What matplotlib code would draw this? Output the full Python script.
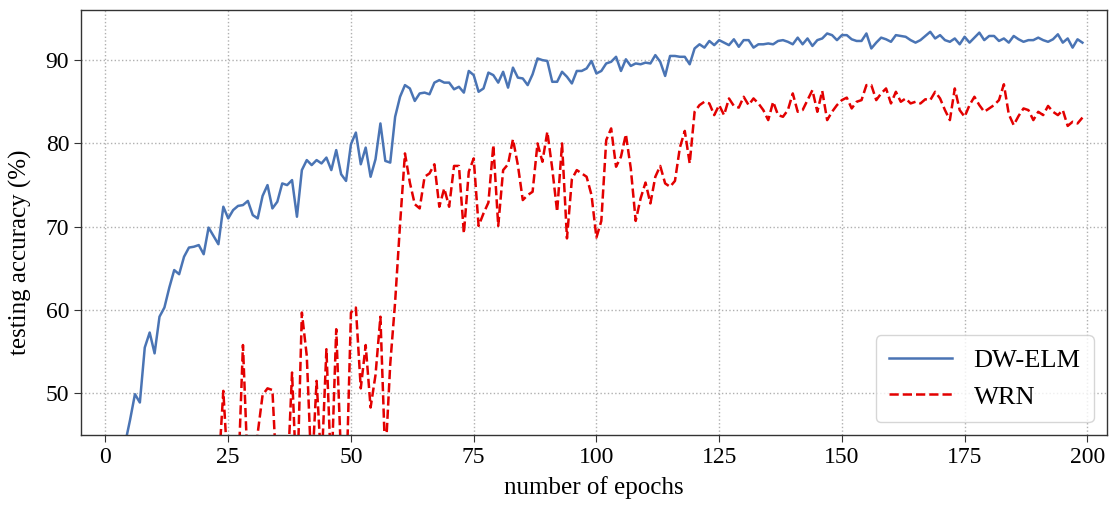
import matplotlib
matplotlib.use("Agg")
import matplotlib.pyplot as plt

plt.rcParams['font.family'] = ['Liberation Serif', 'DejaVu Serif']
plt.rcParams['mathtext.fontset'] = 'stix'

# testing accuracy per epoch (%)
dw_elm = [
    28.0, 33.0, 37.0, 41.0, 44.0, 46.8, 49.9, 48.9, 55.5, 57.3,
    54.8, 59.2, 60.3, 62.7, 64.8, 64.3, 66.4, 67.5, 67.6, 67.8,
    66.7, 69.9, 68.9, 67.9, 72.4, 71.0, 72.0, 72.5, 72.6, 73.1,
    71.4, 71.0, 73.7, 75.0, 72.2, 73.0, 75.2, 75.0, 75.6, 71.2,
    76.8, 78.0, 77.4, 78.0, 77.6, 78.3, 76.8, 79.2, 76.3, 75.5,
    79.9, 81.3, 77.5, 79.5, 76.0, 78.1, 82.4, 77.9, 77.7, 83.2,
    85.6, 87.0, 86.6, 85.1, 86.0, 86.1, 85.9, 87.3, 87.6, 87.3,
    87.3, 86.5, 86.8, 86.1, 88.7, 88.2, 86.2, 86.6, 88.5, 88.2,
    87.3, 88.6, 86.7, 89.1, 87.9, 87.8, 87.0, 88.3, 90.2, 90.0,
    89.9, 87.4, 87.4, 88.6, 88.0, 87.2, 88.7, 88.7, 89.0, 89.9,
    88.4, 88.7, 89.6, 89.8, 90.4, 88.7, 90.1, 89.3, 89.6, 89.5,
    89.7, 89.6, 90.6, 89.8, 88.1, 90.5, 90.5, 90.4, 90.4, 89.5,
    91.4, 91.9, 91.5, 92.3, 91.8, 92.4, 92.1, 91.8, 92.5, 91.6,
    92.4, 92.4, 91.5, 91.9, 91.9, 92.0, 91.9, 92.3, 92.4, 92.2,
    91.9, 92.7, 91.9, 92.6, 91.7, 92.4, 92.6, 93.2, 93.0, 92.4,
    93.0, 93.0, 92.5, 92.3, 92.3, 93.2, 91.4, 92.1, 92.7, 92.5,
    92.2, 93.0, 92.9, 92.8, 92.4, 92.1, 92.4, 92.9, 93.4, 92.6,
    93.0, 92.4, 92.2, 92.6, 91.9, 92.8, 92.1, 92.7, 93.3, 92.4,
    92.9, 92.9, 92.3, 92.6, 92.1, 92.9, 92.5, 92.2, 92.4, 92.4,
    92.7, 92.4, 92.2, 92.5, 93.1, 92.1, 92.6, 91.5, 92.5, 92.1,
]

wrn = [
    18.0, 22.5, 25.1, 28.4, 27.0, 31.2, 30.5, 33.8, 32.1, 35.6,
    34.0, 36.9, 35.2, 38.1, 36.4, 39.0, 37.5, 40.2, 38.3, 41.0,
    39.1, 41.8, 40.0, 40.5, 50.3, 40.0, 42.0, 39.5, 55.8, 40.5,
    39.0, 45.2, 49.8, 50.6, 50.4, 38.5, 41.0, 39.0, 52.5, 38.0,
    59.7, 54.5, 40.0, 51.5, 41.0, 55.3, 40.0, 57.7, 42.0, 38.0,
    59.7, 60.3, 50.6, 55.8, 48.3, 52.2, 59.2, 42.0, 53.5, 61.0,
    70.3, 78.8, 75.3, 72.7, 72.2, 76.0, 76.4, 77.5, 72.4, 74.6,
    72.4, 77.3, 77.3, 69.2, 76.6, 78.2, 70.1, 71.6, 72.9, 79.8,
    70.1, 76.8, 77.5, 80.5, 77.4, 73.2, 73.8, 74.2, 80.0, 77.8,
    81.4, 77.0, 71.8, 80.0, 68.6, 75.7, 76.8, 76.4, 76.0, 73.8,
    68.7, 70.7, 80.4, 81.8, 77.2, 78.4, 81.1, 77.0, 70.7, 73.4,
    75.3, 72.8, 76.0, 77.3, 75.2, 74.8, 75.5, 79.5, 81.5, 77.6,
    83.8, 84.6, 85.0, 84.8, 83.4, 84.6, 83.4, 85.4, 84.5, 84.3,
    85.6, 84.6, 85.4, 84.8, 84.0, 82.8, 85.0, 83.4, 83.2, 84.0,
    86.0, 83.8, 84.0, 85.2, 86.4, 83.8, 86.3, 82.8, 83.8, 84.6,
    85.2, 85.5, 84.2, 85.0, 85.2, 87.0, 87.0, 85.2, 86.0, 86.6,
    84.8, 86.2, 85.0, 85.4, 84.8, 85.0, 84.8, 85.3, 85.2, 86.2,
    85.4, 84.0, 82.8, 86.6, 84.0, 83.2, 84.6, 85.6, 84.6, 83.8,
    84.2, 84.6, 85.2, 87.1, 83.5, 82.2, 83.3, 84.2, 84.0, 82.8,
    83.8, 83.4, 84.5, 83.8, 83.4, 84.0, 82.1, 82.6, 82.4, 83.1,
]

epochs = list(range(len(dw_elm)))
x_ticks = [0, 25, 50, 75, 100, 125, 150, 175, 200]
y_ticks = [50, 60, 70, 80, 90]

fig = plt.figure(figsize=(11.15, 5.07), dpi=100)
ax = fig.add_axes([0.0726, 0.142, 0.9202, 0.838])

ax.plot(epochs, dw_elm, color='#4a74b4', lw=1.8, label='DW-ELM')
ax.plot(epochs, wrn, color='#e30000', lw=1.8, ls='--', label='WRN')

ax.set_xlim(-5, 204)
ax.set_ylim(45, 96)
ax.set_xticks(x_ticks)
ax.set_yticks(y_ticks)
ax.tick_params(labelsize=17, length=5, color='#333333')
ax.grid(True, ls=':', color='#b0b0b0', lw=1.0)
for sp in ax.spines.values():
    sp.set_color('#333333')
    sp.set_linewidth(1.0)

ax.set_xlabel('number of epochs', fontsize=18, labelpad=6)
ax.set_ylabel('testing accuracy (%)', fontsize=18)
ax.yaxis.set_label_coords(-0.048, 0.43)

leg = ax.legend(loc='lower right', fontsize=19, handlelength=2.4,
                borderpad=0.5, labelspacing=0.5, framealpha=0.8,
                fancybox=True, borderaxespad=0.5)
leg.get_frame().set_edgecolor('#cccccc')

fig.savefig('out.png', dpi=100)
